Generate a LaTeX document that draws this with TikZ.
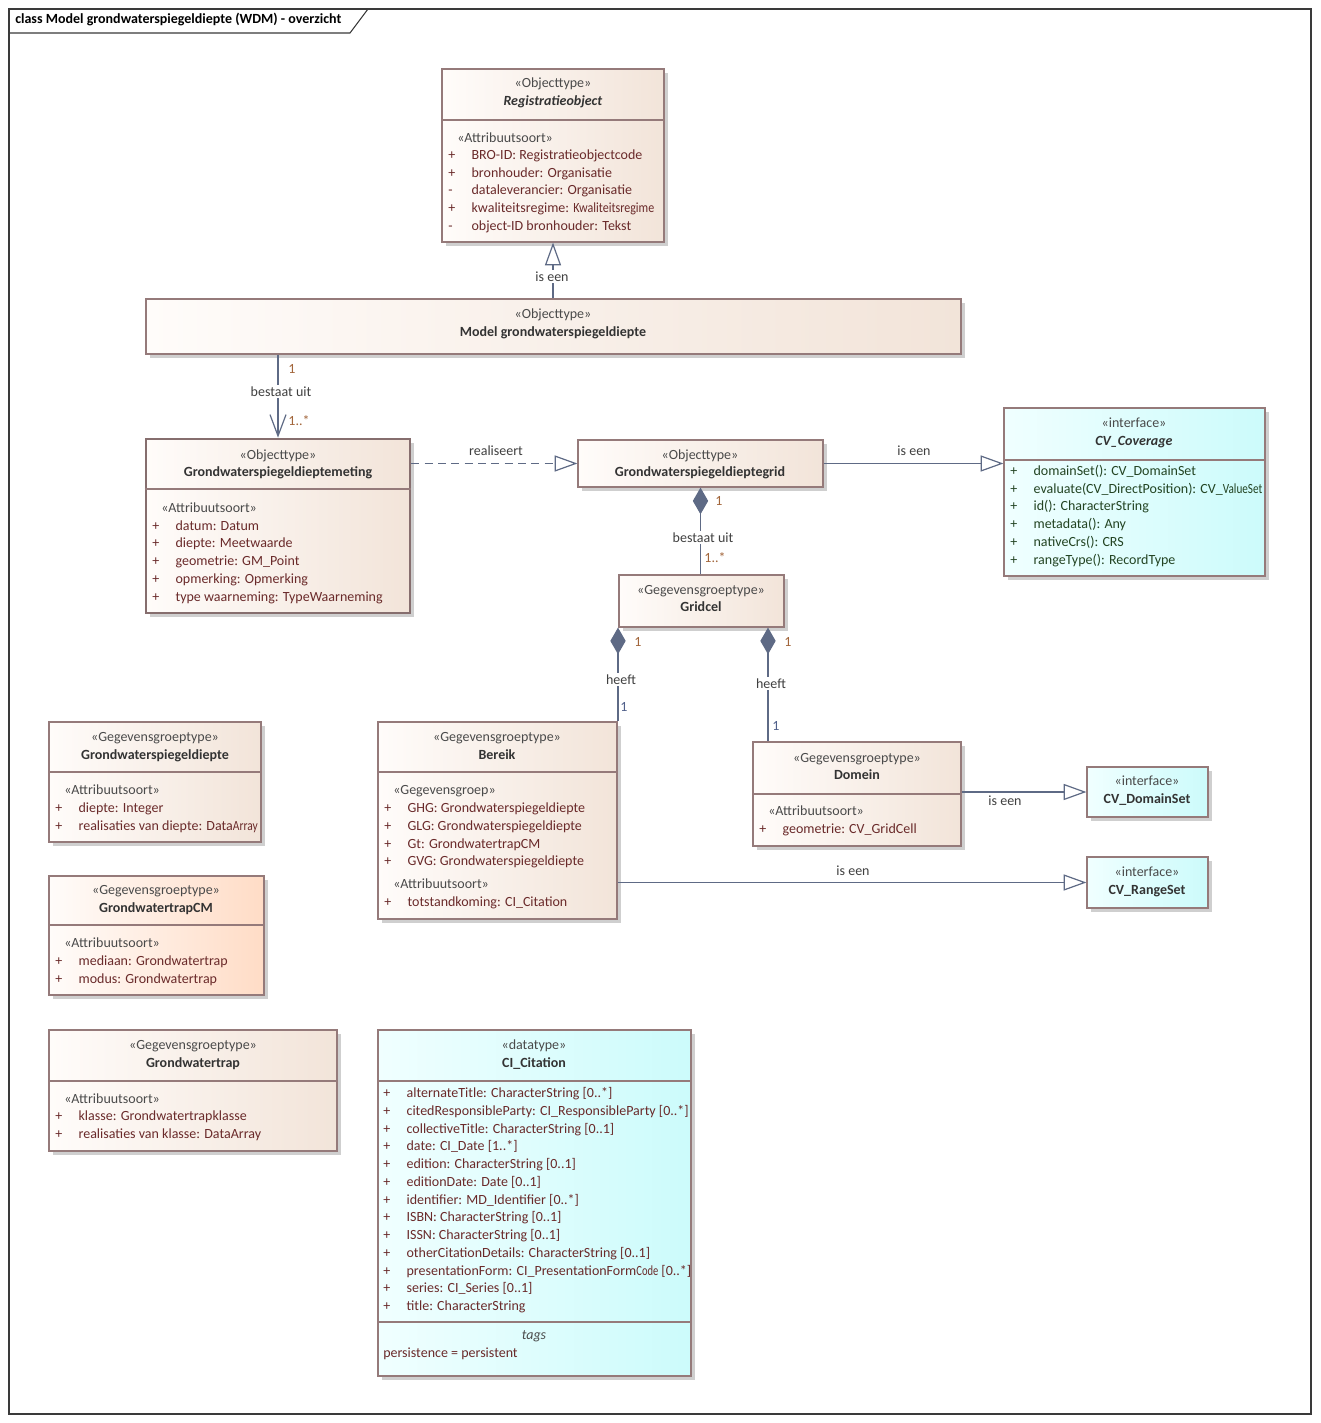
\documentclass[tikz,border=0pt]{standalone}
\usepackage{fontspec}
\setmainfont{Carlito}
\usetikzlibrary{arrows.meta,fit,calc}
\definecolor{bordc}{HTML}{957A7A}
\definecolor{fl}{HTML}{FFFCFA}
\definecolor{fr}{HTML}{F2E4D9}
\definecolor{cmr}{HTML}{FFDCC6}
\definecolor{cyl}{HTML}{F0FFFF}
\definecolor{cyr}{HTML}{CCFBFB}
\definecolor{shadc}{HTML}{CFCFCF}
\definecolor{linec}{HTML}{5E6A85}
\definecolor{multc}{HTML}{A2653A}
\definecolor{mult2}{HTML}{50608A}
\definecolor{labc}{HTML}{404040}
\definecolor{atc}{HTML}{6A2A2A}
\definecolor{covc}{HTML}{234423}
\definecolor{stc}{HTML}{4A4A4A}
\definecolor{nmc}{HTML}{333333}
\definecolor{framec}{HTML}{3A3A3A}
\newcommand\umlbox[6][]{%
  \fill[shadc] (#3+4,#4+4) rectangle (#5+4,#6+4);
  \node[ubox,#1,fit={(#3,#4) (#5,#6)}] (#2) {};}
\newcommand\sepline[3][]{\draw[bordc,line width=0.9pt,#1] (#2.west |- 0,#3) -- (#2.east |- 0,#3);}
\newcommand\attr[6][atc]{\node[attrtxt,text=#1] (#2) at (#3,#4) {\makebox[17.5pt][l]{#5}#6};}
\begin{document}
\begin{tikzpicture}[x=0.75pt,y=-0.75pt,
  font=\fontsize{10.5}{12}\selectfont,
  ubox/.style={draw=bordc,line width=0.9pt,inner sep=0pt,rectangle,left color=fl,right color=fr},
  cmbox/.style={left color=fl,right color=cmr},
  cybox/.style={left color=cyl,right color=cyr},
  sttxt/.style={anchor=mid,inner sep=0pt,text=stc},
  nmtxt/.style={anchor=mid,inner sep=0pt,text=nmc,font=\fontsize{10.5}{12}\selectfont\bfseries},
  cstxt/.style={anchor=mid west,inner sep=0pt,text=stc},
  attrtxt/.style={anchor=mid west,inner sep=0pt},
  conn/.style={draw=linec,line width=0.9pt},
  labtxt/.style={anchor=mid,inner sep=1pt,text=labc},
  wlab/.style={labtxt,fill=white},
  mlt/.style={anchor=mid,inner sep=0pt,text=multc},
  mltb/.style={anchor=mid,inner sep=0pt,text=mult2},
  gentip/.style={-{Triangle[length=17pt,width=12pt,fill=white]}},
  diatip/.style={{Diamond[length=20pt,width=11.5pt]}-}
]
\useasboundingbox[fill=white] (0,0) rectangle (1320,1423);
% frame
\draw[framec,line width=0.8pt] (9,9) rectangle (1311,1414);
\draw[framec,line width=0.8pt] (9,33) -- (350,33) -- (368,9);
\node[anchor=mid west,inner sep=0pt,text=black,font=\fontsize{10.5}{12}\selectfont\bfseries] (title) at (15,20) {class Model grondwaterspiegeldiepte (WDM) - overzicht};

% Registratieobject
\umlbox{reg}{442}{69}{664}{242}
\sepline{reg}{120}
\node[sttxt] (reg1) at (553,84) {«Objecttype»};
\node[nmtxt] (reg2) at (553,102) {\textit{Registratieobject}};
\node[cstxt] (reg3) at (457,139) {«Attribuutsoort»};
\attr{reg4}{448}{156}{+}{BRO-ID: Registratieobjectcode}
\attr{reg5}{448}{174}{+}{bronhouder: Organisatie}
\attr{reg6}{448}{191}{-}{dataleverancier: Organisatie}
\attr{reg7}{448}{209}{+}{kwaliteitsregime: \scalebox{0.86}[1]{Kwaliteitsregime}}
\attr{reg8}{448}{227}{-}{object-ID bronhouder: Tekst}

% Model
\umlbox{model}{146}{299}{961}{354}
\node[sttxt] (mod1) at (553,315) {«Objecttype»};
\node[nmtxt] (mod2) at (553,333) {Model grondwaterspiegeldiepte};

% Meting
\umlbox[line width=2pt,draw=bordc!90!black]{met}{146}{439}{410}{613}
\sepline[line width=2pt]{met}{489}
\node[sttxt] (met1) at (278,456) {«Objecttype»};
\node[nmtxt] (met2) at (278,473) {Grondwaterspiegeldieptemeting};
\node[cstxt] (met3) at (161,509) {«Attribuutsoort»};
\attr{met4}{152}{527}{+}{datum: Datum}
\attr{met5}{152}{544}{+}{diepte: Meetwaarde}
\attr{met6}{152}{562}{+}{geometrie: GM\_Point}
\attr{met7}{152}{580}{+}{opmerking: Opmerking}
\attr{met8}{152}{598}{+}{type waarneming: TypeWaarneming}

% Grid
\umlbox{grid}{578}{440}{823}{487}
\node[sttxt] (grid1) at (700,456) {«Objecttype»};
\node[nmtxt] (grid2) at (700,473) {Grondwaterspiegeldieptegrid};

% CV_Coverage
\umlbox[cybox]{cov}{1004}{408}{1265}{576}
\sepline{cov}{460}
\node[sttxt] (cov1) at (1134,424) {«interface»};
\node[nmtxt] (cov2) at (1134,442) {\textit{CV\_Coverage}};
\attr[covc]{cov3}{1010}{472}{+}{domainSet(): CV\_DomainSet}
\attr[covc]{cov4}{1010}{490}{+}{evaluate(CV\_DirectPosition): CV\_\scalebox{0.8}[1]{ValueSet}}
\attr[covc]{cov5}{1010}{507}{+}{id(): CharacterString}
\attr[covc]{cov6}{1010}{525}{+}{metadata(): Any}
\attr[covc]{cov7}{1010}{543}{+}{nativeCrs(): CRS}
\attr[covc]{cov8}{1010}{561}{+}{rangeType(): RecordType}

% Gridcel
\umlbox{cel}{619}{575}{784}{627}
\node[sttxt] (cel1) at (701,591) {«Gegevensgroeptype»};
\node[nmtxt] (cel2) at (701,608) {Gridcel};

% Grondwaterspiegeldiepte
\umlbox{gsd}{49}{722}{261}{842}
\sepline{gsd}{772}
\node[sttxt] (gsd1) at (155,738) {«Gegevensgroeptype»};
\node[nmtxt] (gsd2) at (155,756) {Grondwaterspiegeldiepte};
\node[cstxt] (gsd3) at (64,791) {«Attribuutsoort»};
\attr{gsd4}{55}{809}{+}{diepte: Integer}
\attr{gsd5}{55}{827}{+}{realisaties van diepte: Data\scalebox{0.82}[1]{Array}}

% GrondwatertrapCM
\umlbox[cmbox]{gcm}{49}{876}{264}{995}
\sepline{gcm}{925}
\node[sttxt] (gcm1) at (156,891) {«Gegevensgroeptype»};
\node[nmtxt] (gcm2) at (156,909) {GrondwatertrapCM};
\node[cstxt] (gcm3) at (64,944) {«Attribuutsoort»};
\attr{gcm4}{55}{962}{+}{mediaan: Grondwatertrap}
\attr{gcm5}{55}{980}{+}{modus: Grondwatertrap}

% Grondwatertrap
\umlbox{gt}{49}{1030}{337}{1151}
\sepline{gt}{1081}
\node[sttxt] (gt1) at (193,1046) {«Gegevensgroeptype»};
\node[nmtxt] (gt2) at (193,1064) {Grondwatertrap};
\node[cstxt] (gt3) at (64,1100) {«Attribuutsoort»};
\attr{gt4}{55}{1117}{+}{klasse: Grondwatertrapklasse}
\attr{gt5}{55}{1135}{+}{realisaties van klasse: DataArray}

% Bereik
\umlbox{ber}{378}{722}{617}{919}
\sepline{ber}{772}
\node[sttxt] (ber1) at (497,738) {«Gegevensgroeptype»};
\node[nmtxt] (ber2) at (497,756) {Bereik};
\node[cstxt] (ber3) at (393,791) {«Gegevensgroep»};
\attr{ber4}{384}{809}{+}{GHG: Grondwaterspiegeldiepte}
\attr{ber5}{384}{827}{+}{GLG: Grondwaterspiegeldiepte}
\attr{ber6}{384}{845}{+}{Gt: GrondwatertrapCM}
\attr{ber7}{384}{862}{+}{GVG: Grondwaterspiegeldiepte}
\node[cstxt] (ber8) at (393,885) {«Attribuutsoort»};
\attr{ber9}{384}{903}{+}{totstandkoming: CI\_Citation}

% Domein
\umlbox{dom}{753}{742}{961}{846}
\sepline{dom}{794}
\node[sttxt] (dom1) at (857,759) {«Gegevensgroeptype»};
\node[nmtxt] (dom2) at (857,776) {Domein};
\node[cstxt] (dom3) at (768,812) {«Attribuutsoort»};
\attr{dom4}{759}{830}{+}{geometrie: CV\_GridCell}

% CV_DomainSet, CV_RangeSet
\umlbox[cybox]{dset}{1087}{767}{1208}{817}
\node[sttxt] (dset1) at (1147,782) {«interface»};
\node[nmtxt] (dset2) at (1147,800) {CV\_DomainSet};
\umlbox[cybox]{rset}{1087}{857}{1208}{908}
\node[sttxt] (rset1) at (1147,873) {«interface»};
\node[nmtxt] (rset2) at (1147,891) {CV\_RangeSet};

% CI_Citation
\umlbox[cybox]{cit}{378}{1030}{691}{1376}
\sepline{cit}{1081}
\sepline{cit}{1322}
\node[sttxt] (cit1) at (534,1046) {«datatype»};
\node[nmtxt] (cit2) at (534,1064) {CI\_Citation};
\attr{cit3}{383}{1094}{+}{alternateTitle: CharacterString [0..*]}
\attr{cit4}{383}{1112}{+}{citedResponsibleParty: CI\_ResponsibleParty [0..*]}
\attr{cit5}{383}{1130}{+}{collectiveTitle: CharacterString [0..1]}
\attr{cit6}{383}{1147}{+}{date: CI\_Date [1..*]}
\attr{cit7}{383}{1165}{+}{edition: CharacterString [0..1]}
\attr{cit8}{383}{1183}{+}{editionDate: Date [0..1]}
\attr{cit9}{383}{1201}{+}{identifier: MD\_Identifier [0..*]}
\attr{cit10}{383}{1218}{+}{ISBN: CharacterString [0..1]}
\attr{cit11}{383}{1236}{+}{ISSN: CharacterString [0..1]}
\attr{cit12}{383}{1254}{+}{otherCitationDetails: CharacterString [0..1]}
\attr{cit13}{383}{1272}{+}{presentationForm: CI\_PresentationForm\scalebox{0.75}[1]{Code} [0..*]}
\attr{cit14}{383}{1289}{+}{series: CI\_Series [0..1]}
\attr{cit15}{383}{1307}{+}{title: CharacterString}
\node[anchor=mid,inner sep=0pt,text=stc,font=\fontsize{10.5}{12}\selectfont\itshape] (cit16) at (534,1336) {tags};
\node[attrtxt,text=atc] (cit17) at (383,1354) {persistence = persistent};

% connectors
\coordinate (xa) at (618,0);
\coordinate (xb) at (768,0);
\draw[conn,gentip] (model.north -| reg.south) -- (reg.south);
\node[wlab] (l1) at (552,278) {is een};
\draw[conn,-{Straight Barb[length=16pt,width=12pt]}] (model.south -| met.north) -- (met.north);
\node[wlab] (l2) at (281,393) {bestaat uit};
\node[mlt] (m1) at (292,370) {1};
\node[mlt] (m2) at (299,422) {1..*};
\draw[conn,dash pattern=on 6pt off 4pt,gentip] (met.east |- grid.west) -- (grid.west);
\node[labtxt] (l3) at (496,452) {realiseert};
\draw[conn,gentip] (grid.east) -- (grid.east -| cov.west);
\node[labtxt] (l4) at (914,452) {is een};
\draw[conn,diatip,fill=linec] (grid.south) -- (cel.north -| grid.south);
\node[wlab] (l5) at (703,539) {bestaat uit};
\node[mlt] (m3) at (719,502) {1};
\node[mlt] (m4) at (715,559) {1..*};
\draw[conn,diatip] (cel.south -| xa) -- (ber.north -| xa);
\node[wlab] (l6) at (621,681) {heeft};
\node[mlt] (m5) at (638,643) {1};
\node[mltb] (m6) at (624,708) {1};
\draw[conn,diatip] (cel.south -| xb) -- (dom.north -| xb);
\node[wlab] (l7) at (771,685) {heeft};
\node[mlt] (m7) at (788,643) {1};
\node[mltb] (m8) at (776,727) {1};
\draw[conn,gentip] (dom.east |- dset.west) -- (dset.west);
\node[labtxt] (l8) at (1005,802) {is een};
\draw[conn,gentip] (ber.east |- rset.west) -- (rset.west);
\node[labtxt] (l9) at (853,872) {is een};
\end{tikzpicture}
\end{document}
